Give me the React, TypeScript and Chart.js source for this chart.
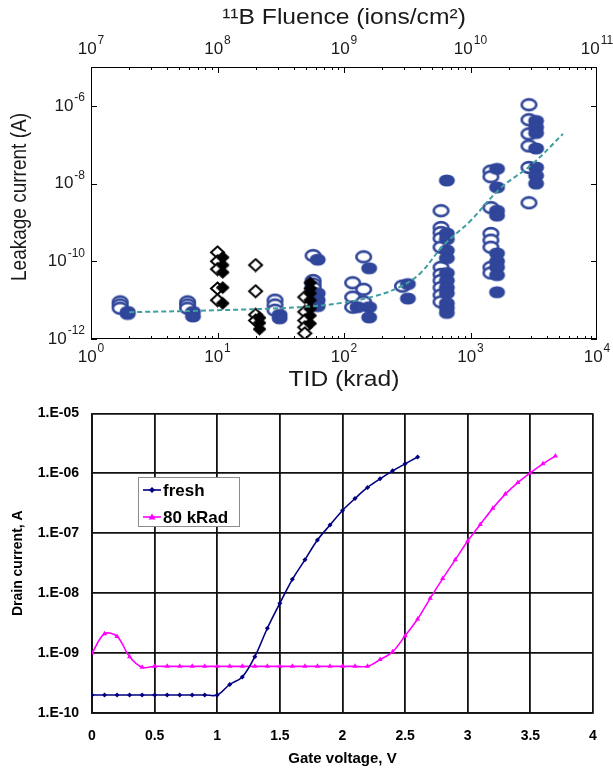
import React, { useEffect, useRef } from 'react';
import { Chart, registerables } from 'chart.js';

Chart.register(...registerables);

// ---------- Top chart data (TID krad, leakage current A) ----------
const openCircles: number[][] = [
  [1.7, 9e-12], [1.7, 7.5e-12], [1.7, 6.2e-12],
  [5.8, 9e-12], [5.8, 7.5e-12], [5.8, 6.2e-12],
  [28.5, 1e-11], [28.5, 7.5e-12], [28.5, 5.5e-12],
  [57, 1.4e-10], [57, 3.2e-11], [57, 2.6e-11], [57, 2.1e-11], [57, 1.5e-11],
  [117, 2.8e-11], [117, 1.2e-11], [117, 6.6e-12],
  [143, 1.3e-10], [143, 1.9e-11], [143, 9e-12],
  [290, 2.3e-11],
  [585, 2e-9], [585, 7.4e-10], [585, 5.5e-10], [585, 3.9e-10], [585, 2.3e-10], [585, 7e-11],
  [585, 4.6e-11], [585, 3.2e-11], [585, 2.1e-11], [585, 1.35e-11], [585, 9e-12],
  [1450, 2.1e-8], [1450, 1.5e-8], [1450, 2.4e-9], [1450, 5.2e-10], [1450, 3.5e-10],
  [1450, 2.3e-10], [1450, 7e-11], [1450, 5e-11],
  [2900, 1.07e-6], [2900, 4.4e-7], [2900, 1.9e-7], [2900, 9.3e-8], [2900, 2.6e-8], [2900, 3.2e-9],
];
const filledCircles: number[][] = [
  [1.95, 5e-12], [1.95, 4.4e-12],
  [6.4, 5e-12], [6.4, 3.8e-12],
  [31, 4.2e-12], [31, 3.4e-12],
  [62, 1.1e-10], [62, 1.5e-11], [62, 1e-11], [62, 7e-12],
  [128, 6.6e-12],
  [158, 6.6e-11], [158, 6.6e-12], [158, 3.6e-12],
  [320, 2.6e-11], [320, 1.1e-11],
  [650, 1.2e-8], [650, 5.2e-10], [650, 3.7e-10], [650, 1.9e-10], [650, 1.2e-10], [650, 5e-11],
  [650, 3.2e-11], [650, 2.1e-11], [650, 1.5e-11], [650, 8.3e-12], [650, 6.3e-12], [650, 4.7e-12],
  [1620, 2.4e-8], [1620, 8e-9], [1620, 2e-9], [1620, 1.5e-9], [1620, 1.6e-10], [1620, 1e-10],
  [1620, 7e-11], [1620, 4.4e-11], [1620, 1.6e-11],
  [3300, 4.1e-7], [3300, 2.8e-7], [3300, 2e-7], [3300, 8e-8], [3300, 2.6e-8], [3300, 1.6e-8], [3300, 1e-8],
];
const openDiamonds: number[][] = [
  [10, 1.7e-10], [10, 1e-10], [10, 6.3e-11], [10, 2e-11], [10, 1e-11],
  [20, 8e-11], [20, 1.7e-11], [20, 4.2e-12], [20, 3e-12],
  [49, 1.2e-11], [49, 5e-12], [49, 3e-12], [49, 2e-12], [49, 1.4e-12],
];
const filledDiamonds: number[][] = [
  [11, 1.26e-10], [11, 8e-11], [11, 5.2e-11], [11, 2.1e-11], [11, 8.3e-12],
  [21.5, 3.5e-12], [21.5, 2.6e-12], [21.5, 1.8e-12],
  [54, 2.8e-11], [54, 2e-11], [54, 1.5e-11], [54, 1e-11], [54, 6e-12], [54, 4e-12], [54, 2.5e-12],
];
const fitTID = [2, 10, 45, 98, 180, 277, 398, 606, 1000, 1712, 3120, 5380];
const fitI = [4.9e-12, 5.5e-12, 6.6e-12, 8.6e-12, 1.3e-11, 2.2e-11, 4.8e-11, 2.5e-10, 1.1e-9, 7.4e-9, 3.3e-8, 1.9e-7];

const tidTickExps = [0, 1, 2, 3, 4];
const fluenceTickExps = [7, 8, 9, 10, 11];
const leakTickExps = [-12, -10, -8, -6];

// ---------- Bottom chart data ----------
const freshV = [0, 0.1, 0.2, 0.3, 0.4, 0.5, 0.6, 0.7, 0.8, 0.9, 1.0, 1.1, 1.2, 1.3, 1.4, 1.5, 1.6, 1.7, 1.8, 1.9, 2.0, 2.1, 2.2, 2.3, 2.4, 2.5, 2.6];
const freshI = [2e-10, 2e-10, 2e-10, 2e-10, 2e-10, 2e-10, 2e-10, 2e-10, 2e-10, 2e-10, 2e-10, 3e-10, 4e-10, 8.7e-10, 2.6e-9, 6.8e-9, 1.7e-8, 3.6e-8, 7.7e-8, 1.37e-7, 2.4e-7, 3.8e-7, 5.8e-7, 8.1e-7, 1.1e-6, 1.44e-6, 1.87e-6];
const radV = [0, 0.1, 0.2, 0.3, 0.4, 0.5, 0.6, 0.7, 0.8, 0.9, 1.0, 1.1, 1.2, 1.3, 1.4, 1.5, 1.6, 1.7, 1.8, 1.9, 2.0, 2.1, 2.2, 2.3, 2.4, 2.5, 2.6, 2.7, 2.8, 2.9, 3.0, 3.1, 3.2, 3.3, 3.4, 3.5, 3.6, 3.7];
const radI = [1e-9, 2.1e-9, 1.9e-9, 8.7e-10, 5.8e-10, 6e-10, 6e-10, 6e-10, 6e-10, 6e-10, 6e-10, 6e-10, 6e-10, 6e-10, 6e-10, 6e-10, 6e-10, 6e-10, 6e-10, 6e-10, 6e-10, 6e-10, 6e-10, 7.8e-10, 1.05e-9, 1.95e-9, 3.7e-9, 8.2e-9, 1.75e-8, 3.6e-8, 7.4e-8, 1.4e-7, 2.6e-7, 4.5e-7, 7e-7, 1.02e-6, 1.44e-6, 1.95e-6];
const drainTicks = [1e-10, 1e-9, 1e-8, 1e-7, 1e-6, 1e-5];

const FONT = '"Liberation Sans", Arial, Helvetica, sans-serif';
const BLUE = '#30469a';

function makeMarker(kind: string): HTMLCanvasElement {
  const c = document.createElement('canvas');
  c.width = 19; c.height = 15;
  const g = c.getContext('2d')!;
  if (kind === 'openEllipse' || kind === 'filledEllipse') {
    g.beginPath();
    g.ellipse(9.5, 7.5, 7.3, 5.4, 0, 0, Math.PI * 2);
    if (kind === 'openEllipse') {
      g.fillStyle = '#fff'; g.fill();
      g.lineWidth = 2.6; g.strokeStyle = BLUE; g.stroke();
    } else {
      g.fillStyle = BLUE; g.fill();
      g.lineWidth = 1.4; g.strokeStyle = BLUE; g.stroke();
    }
  } else {
    g.beginPath();
    g.moveTo(9.5, 1.5); g.lineTo(16, 7.5); g.lineTo(9.5, 13.5); g.lineTo(3, 7.5); g.closePath();
    if (kind === 'openDiamond') {
      g.fillStyle = '#fff'; g.fill();
      g.lineWidth = 2; g.strokeStyle = '#000'; g.stroke();
    } else {
      g.fillStyle = '#000'; g.fill();
      g.lineWidth = 1; g.strokeStyle = '#000'; g.stroke();
    }
  }
  return c;
}

function drawPow(ctx: CanvasRenderingContext2D, x: number, y: number, exp: number, align: string) {
  const base = '10';
  const e = String(exp);
  ctx.font = `17px ${FONT}`;
  const wb = ctx.measureText(base).width;
  ctx.font = `12px ${FONT}`;
  const we = ctx.measureText(e).width;
  const total = wb + we + 1;
  let start = x - total / 2;
  if (align === 'right') start = x - total;
  ctx.textBaseline = 'middle';
  ctx.textAlign = 'left';
  ctx.font = `17px ${FONT}`;
  ctx.fillText(base, start, y);
  ctx.font = `12px ${FONT}`;
  ctx.fillText(e, start + wb + 1, y - 8);
}

function stretchedText(ctx: CanvasRenderingContext2D, text: string, cx: number, cy: number, size: number, rotate: boolean) {
  ctx.save();
  ctx.translate(cx, cy);
  if (rotate) {
    ctx.rotate(-Math.PI / 2);
    ctx.scale(1, 1.12);
  } else {
    ctx.scale(1.12, 1);
  }
  ctx.font = `${size}px ${FONT}`;
  ctx.textAlign = 'center';
  ctx.textBaseline = 'middle';
  ctx.fillText(text, 0, 0);
  ctx.restore();
}

const topDecor = {
  id: 'topDecor',
  afterDraw(chart: any) {
    const { ctx, chartArea: a, scales } = chart;
    ctx.save();
    ctx.strokeStyle = '#000';
    ctx.lineWidth = 1;
    ctx.strokeRect(a.left + 0.5, a.top + 0.5, a.right - a.left - 1, a.bottom - a.top - 1);
    ctx.beginPath();
    for (let d = 0; d < 4; d++) {
      for (let m = 1; m < 10; m++) {
        const px = Math.round(scales.x.getPixelForValue(Math.pow(10, d) * m)) + 0.5;
        const len = m === 1 ? 6 : 3;
        ctx.moveTo(px, a.bottom); ctx.lineTo(px, a.bottom - len);
      }
    }
    for (let d = 7; d < 11; d++) {
      for (let m = 1; m < 10; m++) {
        const px = Math.round(scales.x2.getPixelForValue(Math.pow(10, d) * m)) + 0.5;
        const len = m === 1 ? 6 : 3;
        ctx.moveTo(px, a.top); ctx.lineTo(px, a.top + len);
      }
    }
    for (const e of leakTickExps) {
      const py = Math.round(scales.y.getPixelForValue(Math.pow(10, e))) + 0.5;
      ctx.moveTo(a.left, py); ctx.lineTo(a.left + 6, py);
      ctx.moveTo(a.right, py); ctx.lineTo(a.right - 6, py);
    }
    ctx.stroke();

    ctx.fillStyle = '#1a1a1a';
    for (const e of tidTickExps) {
      drawPow(ctx, scales.x.getPixelForValue(Math.pow(10, e)), a.bottom + 18, e, 'center');
    }
    for (const e of fluenceTickExps) {
      drawPow(ctx, scales.x2.getPixelForValue(Math.pow(10, e)), 49, e, 'center');
    }
    for (const e of leakTickExps) {
      drawPow(ctx, a.left - 6, scales.y.getPixelForValue(Math.pow(10, e)), e, 'right');
    }
    stretchedText(ctx, '\u00B9\u00B9B Fluence (ions/cm\u00B2)', (a.left + a.right) / 2, 18, 22, false);
    stretchedText(ctx, 'TID (krad)', (a.left + a.right) / 2, 380, 22, false);
    stretchedText(ctx, 'Leakage current (A)', 20, 197, 19, true);
    ctx.restore();
  },
};

const legendBox = {
  id: 'legendBox',
  afterDraw(chart: any) {
    const { ctx } = chart;
    const x0 = 138, y0 = 85, w = 101, h = 49;
    ctx.save();
    ctx.fillStyle = '#fff';
    ctx.fillRect(x0, y0, w, h);
    ctx.strokeStyle = '#8c8c8c';
    ctx.lineWidth = 1;
    ctx.strokeRect(x0 + 0.5, y0 + 0.5, w, h);
    const rows = [98, 125];
    chart.data.datasets.forEach((ds: any, i: number) => {
      const y = rows[i];
      ctx.strokeStyle = ds.borderColor;
      ctx.lineWidth = 1.6;
      ctx.beginPath(); ctx.moveTo(143, y); ctx.lineTo(161, y); ctx.stroke();
      ctx.fillStyle = ds.borderColor;
      ctx.beginPath();
      if (i === 0) {
        ctx.moveTo(152, y - 3); ctx.lineTo(155, y); ctx.lineTo(152, y + 3); ctx.lineTo(149, y);
      } else {
        ctx.moveTo(152, y - 3.5); ctx.lineTo(155.5, y + 2.5); ctx.lineTo(148.5, y + 2.5);
      }
      ctx.closePath(); ctx.fill();
      ctx.fillStyle = '#000';
      ctx.font = `bold 17px ${FONT}`;
      ctx.textAlign = 'left';
      ctx.textBaseline = 'middle';
      ctx.fillText(ds.label, 163, y + 1);
    });
    ctx.restore();
  },
};

function toPts(arr: number[][]) {
  return arr.map((p) => ({ x: p[0], y: p[1] }));
}

export default function App() {
  const topRef = useRef<HTMLCanvasElement | null>(null);
  const botRef = useRef<HTMLCanvasElement | null>(null);

  useEffect(() => {
    const hidden = { display: false };
    const top = new Chart(topRef.current!, {
      type: 'scatter',
      data: {
        datasets: [
          {
            label: 'fit',
            data: fitTID.map((x, i) => ({ x, y: fitI[i] })),
            showLine: true,
            borderColor: '#3f9e9e',
            borderWidth: 2,
            borderDash: [5, 3],
            pointRadius: 0,
            tension: 0.4,
            order: 0,
          } as any,
          { label: 'filled diamonds', data: toPts(filledDiamonds), pointStyle: makeMarker('filledDiamond') as any, pointRadius: 7, order: 1 },
          { label: 'open diamonds', data: toPts(openDiamonds), pointStyle: makeMarker('openDiamond') as any, pointRadius: 7, order: 2 },
          { label: 'filled circles', data: toPts(filledCircles), pointStyle: makeMarker('filledEllipse') as any, pointRadius: 7, order: 3 },
          { label: 'open circles', data: toPts(openCircles), pointStyle: makeMarker('openEllipse') as any, pointRadius: 7, order: 4 },
        ],
      },
      options: {
        responsive: false,
        animation: false,
        events: [],
        layout: { padding: { left: 0, right: 16, top: 0, bottom: 0 } },
        plugins: { legend: hidden, tooltip: { enabled: false } },
        scales: {
          x: {
            type: 'logarithmic', position: 'bottom', min: 1, max: 1e4,
            ticks: hidden, grid: hidden, border: hidden,
            afterFit: (s: any) => { s.height = 53; },
          },
          x2: {
            type: 'logarithmic', position: 'top', min: 1e7, max: 1e11, display: true,
            ticks: hidden, grid: hidden, border: hidden,
            afterFit: (s: any) => { s.height = 67; },
          },
          y: {
            type: 'logarithmic', position: 'left', min: 1e-12, max: 1e-5,
            ticks: hidden, grid: hidden, border: hidden,
            afterFit: (s: any) => { s.width = 91; },
          },
        },
      } as any,
      plugins: [topDecor],
    });

    const tickFont = { family: FONT, size: 14, weight: 'bold' as const };
    const bot = new Chart(botRef.current!, {
      type: 'line',
      data: {
        datasets: [
          {
            label: 'fresh',
            data: freshV.map((x, i) => ({ x, y: freshI[i] })),
            borderColor: '#000080',
            backgroundColor: '#000080',
            borderWidth: 1.6,
            pointStyle: 'rectRot',
            pointRadius: 2.5,
            pointBorderWidth: 0,
            tension: 0.35,
          },
          {
            label: '80 kRad',
            data: radV.map((x, i) => ({ x, y: radI[i] })),
            borderColor: '#ff00ff',
            backgroundColor: '#ff00ff',
            borderWidth: 1.6,
            pointStyle: 'triangle',
            pointRadius: 3,
            pointBorderWidth: 0,
            tension: 0.35,
          },
        ],
      },
      options: {
        responsive: false,
        animation: false,
        events: [],
        layout: { padding: { left: 0, right: 20, top: 18, bottom: 0 } },
        plugins: { legend: { display: false }, tooltip: { enabled: false } },
        scales: {
          x: {
            type: 'linear', min: 0, max: 4,
            ticks: { stepSize: 0.5, font: tickFont, color: '#000', padding: 15, maxRotation: 0, callback: (v: any) => String(v) },
            grid: { color: '#111', lineWidth: 1.8, drawTicks: false },
            border: { color: '#111', width: 1.8 },
            title: { display: true, text: 'Gate voltage, V', font: { family: FONT, size: 15, weight: 'bold' }, color: '#000', padding: { top: 0, bottom: 2 } },
            afterFit: (s: any) => { s.height = 57; },
          },
          y: {
            type: 'logarithmic', min: 1e-10, max: 1e-5,
            afterBuildTicks: (s: any) => { s.ticks = drainTicks.map((v) => ({ value: v })); },
            ticks: {
              font: tickFont, color: '#000', padding: 13,
              callback: (v: any) => {
                const e = Math.round(Math.log10(Number(v)));
                return `1.E${e < 0 ? '-' : '+'}${String(Math.abs(e)).padStart(2, '0')}`;
              },
            },
            grid: { color: '#111', lineWidth: 1.8, drawTicks: false },
            border: { color: '#111', width: 1.8 },
            title: { display: true, text: 'Drain current, A', font: { family: FONT, size: 14, weight: 'bold' }, color: '#000', padding: { top: 10, bottom: 0 } },
            afterFit: (s: any) => { s.width = 92; },
          },
        },
      } as any,
      plugins: [legendBox],
    });

    return () => { top.destroy(); bot.destroy(); };
  }, []);

  return (
    <div style={{ position: 'absolute', left: 0, top: 0, width: 613, height: 770, background: '#fff' }}>
      <canvas ref={topRef} width={613} height={392} style={{ position: 'absolute', left: 0, top: 0, width: 613, height: 392 }} />
      <canvas ref={botRef} width={613} height={378} style={{ position: 'absolute', left: 0, top: 392, width: 613, height: 378 }} />
    </div>
  );
}
